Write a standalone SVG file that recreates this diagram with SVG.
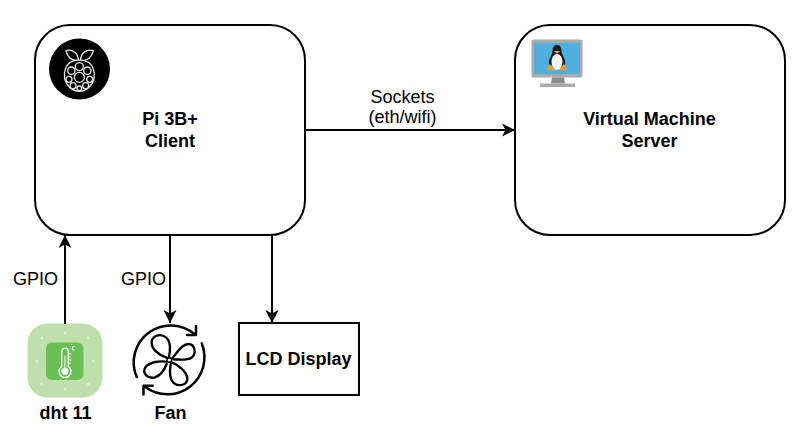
<svg xmlns="http://www.w3.org/2000/svg" width="797" height="435" viewBox="0 0 797 435">
<style>
text{font-family:"Liberation Sans",Arial,sans-serif;fill:#000;text-anchor:middle}
.l{font-size:18px}
.b{font-size:18px;font-weight:bold}
.box{fill:#fff;stroke:#000;stroke-width:2}
.c{fill:none;stroke:#000;stroke-width:2}
.f{fill:none;stroke:#000;stroke-width:2.500;stroke-linecap:round;stroke-linejoin:round}
.g{fill:none;stroke:#000;stroke-width:7;stroke-linecap:round;stroke-linejoin:round}
.d{fill:#deefd3}
</style>
<defs>
<marker id="a" markerUnits="userSpaceOnUse" markerWidth="14" markerHeight="14" refX="13" refY="7" orient="auto">
<path d="M0 0.5L13 7L0 13.500L3.500 7Z" fill="#000"/>
</marker>
</defs>
<rect width="797" height="435" fill="#fff"/>
<g id="pi">
<rect class="box" x="35" y="25" width="270" height="210" rx="35"/>
<circle cx="79.500" cy="69" r="30.500" fill="#000"/>
<g transform="translate(30 20) scale(.33333)" fill="#000" stroke="#e6e6e6" stroke-width="4">
<path d="M145 122C130 122 112 115 108 92C125 86 146 98 145 122Z"/>
<path d="M152 122C167 122 185 115 190 92C172 86 151 98 152 122Z"/>
<path d="M125 125C108 132 100 155 104 175C108 195 125 214 148 214C171 214 188 195 192 175C196 155 188 132 171 125C158 119 138 119 125 125Z"/>
<circle cx="148" cy="172" r="15"/>
<circle cx="148" cy="140" r="12"/>
<circle cx="124" cy="152" r="11"/>
<circle cx="172" cy="152" r="11"/>
<circle cx="117" cy="178" r="9"/>
<circle cx="179" cy="178" r="9"/>
<circle cx="129" cy="197" r="9"/>
<circle cx="167" cy="197" r="9"/>
<circle cx="148" cy="205" r="7"/>
</g>
<text class="b" x="170" y="125">Pi 3B+</text>
<text class="b" x="170" y="147">Client</text>
</g>
<g id="vm">
<rect class="box" x="515" y="25" width="270" height="210" rx="35"/>
<rect x="531.500" y="39.500" width="51" height="38" rx="1.500" fill="#a8aaac"/>
<rect x="534" y="43" width="46" height="31" fill="#4fb0df"/>
<path d="M552 77.500H564L565 83.500H551Z" fill="#8a8c8e"/>
<rect x="540" y="83.500" width="35" height="3.500" fill="#a8aaac"/>
<path d="M557 45C553.500 45 552.500 48 552.500 51C552.500 54 550.500 56 549.500 59C548.500 62 548.500 65 550 68H564C565.500 65 565.500 62 564.500 59C563.500 56 561.500 54 561.500 51C561.500 48 560.500 45 557 45Z" fill="#1c1c1e"/>
<ellipse cx="557" cy="62" rx="5.500" ry="8" fill="#f4f4f4"/>
<path d="M554 51H560L557 54Z" fill="#f0a030"/>
<path d="M550 64L553 67L555 70L550 70.500L547 68.500Z M564 64L561 67L559 70L564 70.500L567 68.500Z" fill="#ef9a2d"/>
<text class="b" x="649.500" y="125">Virtual Machine</text>
<text class="b" x="649.500" y="147">Server</text>
</g>
<g id="dht">
<rect x="27.500" y="323.500" width="75" height="74" rx="20" fill="#bfe0ad"/>
<g class="d">
<circle cx="65" cy="332.700" r="1.500"/><circle cx="41.700" cy="337.700" r="1.500"/><circle cx="88.300" cy="337.700" r="1.500"/>
<circle cx="36.700" cy="361" r="1.500"/><circle cx="93.300" cy="361" r="1.500"/>
<circle cx="41.700" cy="384" r="1.500"/><circle cx="88.300" cy="384" r="1.500"/><circle cx="65" cy="389" r="1.500"/>
</g>
<rect x="46" y="342.500" width="37.500" height="37.500" rx="6" fill="#6abf55"/>
<path d="M61.700 366.500V351.500A3.300 3.300 0 0 1 68.300 351.500V366.500A6 6 0 1 1 61.700 366.500Z" fill="none" stroke="#fff" stroke-width="1.300"/>
<circle cx="65" cy="371.300" r="3.500" fill="#fff"/>
<path d="M65 356V369M68.500 354H71.500M68.500 357H70.500M68.500 360H71.500M68.500 363H70.500" stroke="#fff" stroke-width="1" fill="none"/>
<path d="M74.500 346.500A1.800 1.800 0 1 0 74.500 350M71 344.500H71.800" stroke="#fff" stroke-width=".9" fill="none"/>
<text class="b" x="65.500" y="419">dht 11</text>
</g>
<g id="fan">
<path class="f" d="M136.700 377A37 37 0 0 1 195 334.500"/>
<path class="f" d="M196 326V335H187"/>
<path class="f" d="M201.700 343.300A37 37 0 0 1 145 386.700"/>
<path class="f" d="M143.500 394.500V385.700H152.700"/>
<g transform="translate(120 290) scale(.33333)">
<circle class="g" cx="148" cy="210" r="7" style="stroke-width:4.500"/>
<path class="g" d="M140 203C120 195 95 180 95 158C95 138 120 128 138 142C152 153 152 180 147 200"/>
<path class="g" d="M157 205C170 190 185 162 205 162C225 162 230 190 215 203C200 212 175 208 160 208"/>
<path class="g" d="M157 218C175 225 200 245 202 265C203 285 175 292 160 278C145 262 150 235 152 222"/>
<path class="g" d="M138 215C120 212 90 215 76 232C65 250 85 268 105 262C125 255 135 235 140 222"/>
</g>
<text class="b" x="170.500" y="419">Fan</text>
</g>
<g id="lcd">
<rect x="239" y="323" width="120" height="72" fill="#fff" stroke="#000" stroke-width="2"/>
<text class="b" x="298.500" y="365">LCD Display</text>
</g>
<g id="connectors">
<path class="c" d="M305 130H515" marker-end="url(#a)"/>
<path class="c" d="M65 324V235" marker-end="url(#a)"/>
<path class="c" d="M170 235V323" marker-end="url(#a)"/>
<path class="c" d="M272 235V323" marker-end="url(#a)"/>
<text class="l" x="402.500" y="103">Sockets</text>
<text class="l" x="402.500" y="123">(eth/wifi)</text>
<text class="l" x="35.500" y="285">GPIO</text>
<text class="l" x="143.500" y="285">GPIO</text>
</g>
</svg>
